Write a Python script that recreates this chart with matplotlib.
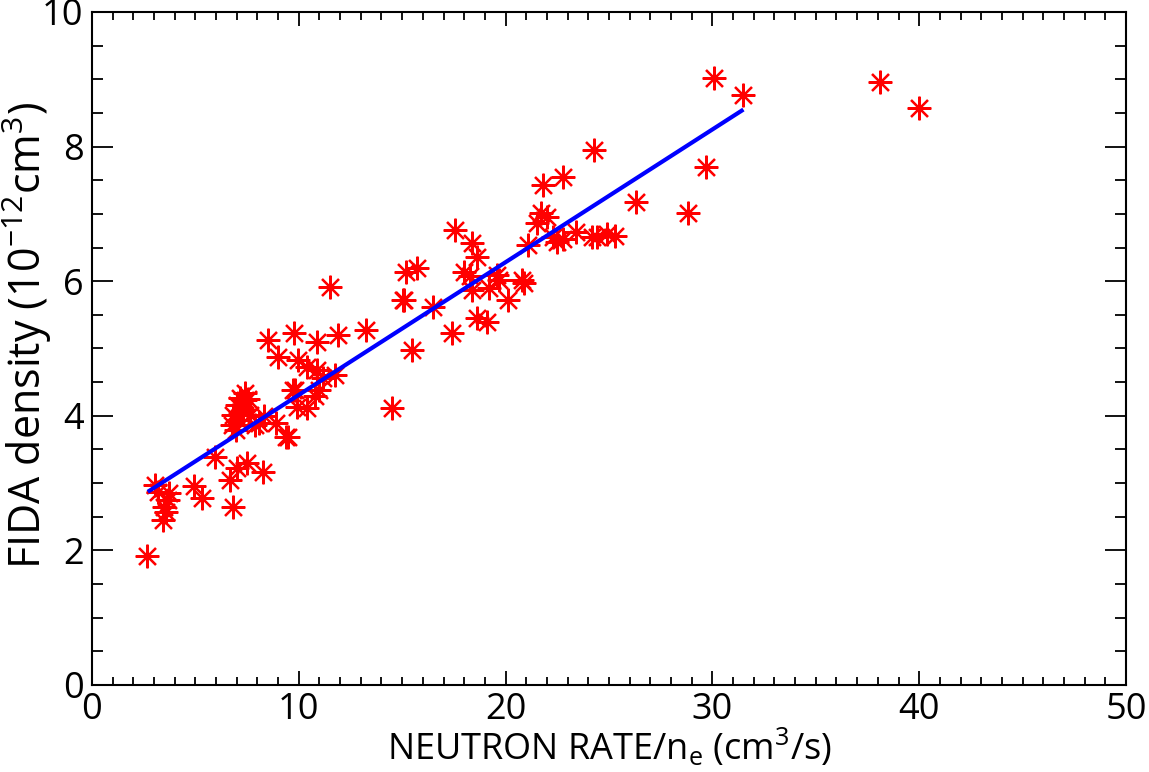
import matplotlib
matplotlib.use("Agg")
import matplotlib.pyplot as plt
from matplotlib.ticker import MultipleLocator

plt.rcParams['font.family'] = ['Open Sans', 'DejaVu Sans']
plt.rcParams['mathtext.fontset'] = 'custom'
plt.rcParams['mathtext.rm'] = 'Open Sans'
plt.rcParams['mathtext.it'] = 'Open Sans:italic'

# Data
neutron_rate = [
    2.66, 3.05, 3.2, 3.43, 3.6, 3.68, 3.75, 3.5,
    4.93, 5.3, 5.95, 6.67, 6.8, 7.0, 7.5, 8.27, 9.5,
    6.82, 7.01, 7.16, 7.4, 7.06, 6.77, 7.3, 7.54, 6.96, 7.64, 7.9, 8.3,
    8.9, 9.4, 9.7, 9.9, 10.4, 11.0, 7.4,
    11.5, 15.04, 8.5, 9.77, 10.88, 11.9, 13.25, 15.47, 9.0, 9.96, 10.4,
    10.9, 11.75, 11.17, 9.8, 10.8, 14.5, 8.1,
    17.55, 18.4, 18.6, 15.2, 15.7, 15.1, 16.5, 17.4, 18.6, 19.1,
    18.0, 18.3, 19.6, 19.7, 19.2, 18.4, 20.1, 20.8, 20.9, 21.1,
    21.7, 22.0, 21.5, 22.3, 22.5, 22.8, 23.4, 24.2,
    24.3, 21.8, 22.8, 29.7, 26.3, 28.8, 24.4, 24.9, 25.3,
    30.1, 31.5, 38.1, 40.0,
]
fida_density = [
    1.92, 2.97, 2.87, 2.45, 2.57, 2.75, 2.85, 2.65,
    2.96, 2.78, 3.39, 3.05, 2.65, 3.22, 3.3, 3.17, 3.69,
    4.01, 4.16, 4.26, 4.34, 3.94, 3.86, 4.09, 4.25, 3.79, 4.01, 3.86, 4.0,
    3.9, 3.68, 4.38, 4.13, 4.12, 4.38, 4.23,
    5.91, 5.72, 5.13, 5.23, 5.1, 5.2, 5.27, 4.98, 4.87, 4.83, 4.73,
    4.68, 4.6, 4.56, 4.38, 4.3, 4.11, 3.9,
    6.76, 6.56, 6.36, 6.14, 6.19, 5.72, 5.62, 5.23, 5.45, 5.4,
    6.14, 6.07, 6.09, 6.02, 5.9, 5.87, 5.72, 6.02, 5.97, 6.54,
    7.01, 6.96, 6.86, 6.66, 6.58, 6.62, 6.73, 6.65,
    7.95, 7.43, 7.55, 7.7, 7.18, 7.01, 6.65, 6.7, 6.67,
    9.02, 8.77, 8.96, 8.57,
]
fit_x = [2.7, 31.5]
fit_y = [2.87, 8.55]

fig = plt.figure(figsize=(11.49, 7.72), dpi=100)
ax = fig.add_axes([0.080, 0.1127, 0.900, 0.8718])

ax.plot(neutron_rate, fida_density, linestyle='none', marker=(8, 2, 0),
        markersize=17, markeredgewidth=1.6, color='#ff0000', zorder=2)
ax.plot(fit_x, fit_y, color='#0000ff', linewidth=3.0, solid_capstyle='butt', zorder=3)

ax.set_xlim(0, 50)
ax.set_ylim(0, 10)
ax.xaxis.set_major_locator(MultipleLocator(10))
ax.xaxis.set_minor_locator(MultipleLocator(1))
ax.yaxis.set_major_locator(MultipleLocator(2))
ax.yaxis.set_minor_locator(MultipleLocator(0.5))

ax.tick_params(axis='both', which='both', direction='in', top=True, right=True,
               width=1.3, colors='black')
ax.tick_params(axis='x', which='major', length=10, pad=5, labelsize=26)
ax.tick_params(axis='x', which='minor', length=6)
ax.tick_params(axis='y', which='major', length=15, pad=6, labelsize=26)
ax.tick_params(axis='y', which='minor', length=8)

for s in ax.spines.values():
    s.set_linewidth(1.5)
    s.set_color('black')

ax.set_xlabel(r'NEUTRON RATE/n$_\mathregular{e}$ (cm$^\mathregular{3}$/s)', fontsize=26,
              va='baseline')
ax.xaxis.set_label_coords(0.500, -0.1115)
ax.set_ylabel(r'FIDA density (10$^\mathregular{-12}$cm$^\mathregular{3}$)', fontsize=31,
              va='baseline')
ax.yaxis.set_label_coords(-0.049, 0.52)

fig.savefig('out.png', dpi=100)
